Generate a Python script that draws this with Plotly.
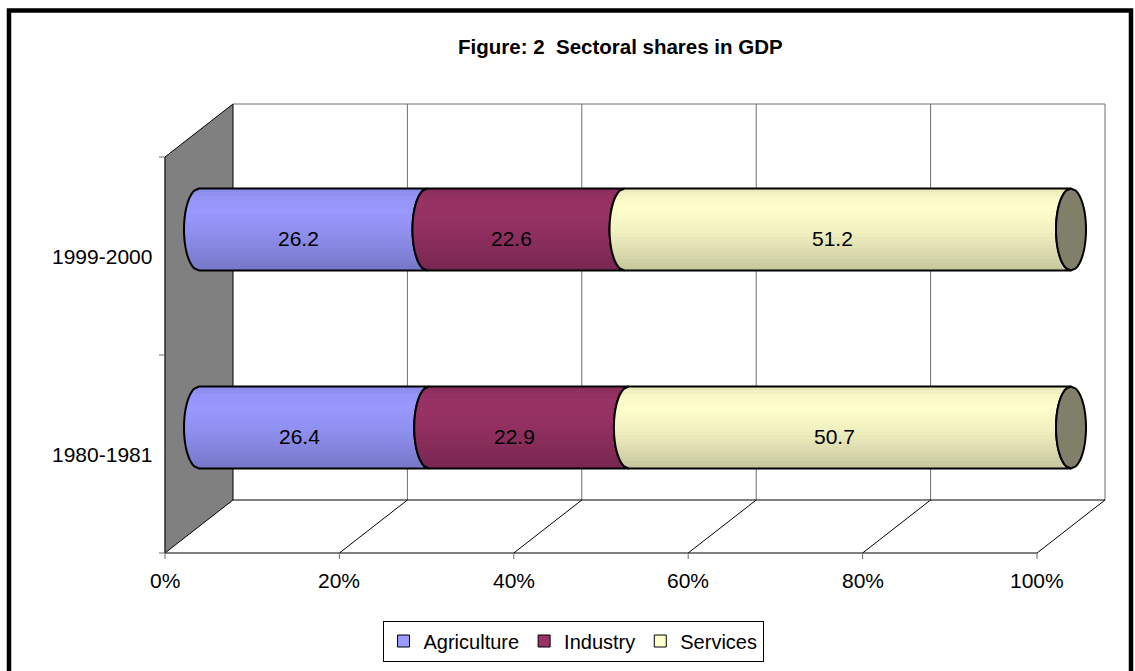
import numpy as np
import plotly.graph_objects as go

# ---- data -------------------------------------------------------------
periods = ["1980-1981", "1999-2000"]          # bottom to top
sectors = ["Agriculture", "Industry", "Services"]
agriculture = [26.4, 26.2]
industry = [22.9, 22.6]
services = [50.7, 51.2]
pct_ticks = [0, 20, 40, 60, 80, 100]
title_text = "Figure: 2 \u00a0Sectoral shares in GDP"

series = [agriculture, industry, services]
sector_colors = ["#9999FF", "#993366", "#FFFFCC"]
cap_color = "#80806A"
wall_color = "#808080"
grid_color = "#6E6E6E"
FONT = "Liberation Sans, Arial, sans-serif"

# ---- page / projection geometry ----------------------------------------
FIG_W, FIG_H = 1135, 671
FRONT_L, FRONT_R, FRONT_T, FRONT_B = 165, 1037, 157, 553   # front plane (px)
DEPTH_PX_X, DEPTH_PX_Y = 68, 53                             # oblique depth (px)

px_per_pct = (FRONT_R - FRONT_L) / 100.0
px_per_cat = (FRONT_B - FRONT_T) / len(periods)
x_range = [-FRONT_L / px_per_pct, (FIG_W - FRONT_L) / px_per_pct]
y_range = [(FRONT_B - FIG_H) / px_per_cat, FRONT_B / px_per_cat]

DX = DEPTH_PX_X / px_per_pct      # depth offset in % units
DY = DEPTH_PX_Y / px_per_cat      # depth offset in category units
n_cat = len(periods)

bar_half = 41 / px_per_cat        # half thickness of a cylinder
cap_a = 15 / px_per_pct           # horizontal radius of the end ellipses


def path_of(xs, ys, close=True):
    pts = " L ".join(f"{x:.4f},{y:.4f}" for x, y in zip(xs, ys))
    return "M " + pts + (" Z" if close else "")


shapes = []


def add_poly(xs, ys, fill, line_color=None, line_width=0, close=True):
    shapes.append(dict(
        type="path", xref="x", yref="y", path=path_of(xs, ys, close),
        fillcolor=fill if fill else "rgba(0,0,0,0)",
        line=dict(color=line_color or "rgba(0,0,0,0)", width=line_width),
        layer="above",
    ))


def add_line(x0, y0, x1, y1, color, width=1):
    shapes.append(dict(type="line", xref="x", yref="y", x0=x0, y0=y0,
                       x1=x1, y1=y1, line=dict(color=color, width=width),
                       layer="above"))


# ---- walls and floor ----------------------------------------------------
y_top, y_bot = float(n_cat), 0.0
# left side wall (grey)
add_poly([0, DX, DX, 0], [y_bot, y_bot + DY, y_top + DY, y_top],
         wall_color, "black", 1)
# back wall top edge and gridlines
add_line(DX, y_top + DY, 100 + DX, y_top + DY, grid_color, 1)
for p in pct_ticks[1:]:
    add_line(p + DX, y_bot + DY, p + DX, y_top + DY, grid_color, 1)
# floor
add_line(DX, y_bot + DY, 100 + DX, y_bot + DY, "black", 1)
add_line(0, y_bot, 100, y_bot, "black", 1)
for p in pct_ticks[1:]:
    add_line(p, y_bot, p + DX, y_bot + DY, "black", 1)
# value-axis tick marks
tick_px = 6
for p in pct_ticks:
    add_line(p, y_bot, p, y_bot - tick_px / px_per_cat, grid_color, 1)
# category axis and its tick marks
add_line(0, y_bot, 0, y_top, "#404040", 1)
for k in range(n_cat + 1):
    add_line(0, k, -tick_px / px_per_pct, k, grid_color, 1)

# ---- cylinders ------------------------------------------------------------


def rgb_of(hexcol):
    h = hexcol.lstrip("#")
    return np.array([int(h[i:i + 2], 16) for i in (0, 2, 4)], dtype=float)


# brightness across the cylinder, t=-1 at the top edge, t=+1 at the bottom
shade_t = [-1.0, -0.75, -0.45, 0.0, 0.45, 1.0]
shade_f = [0.90, 0.98, 1.00, 0.95, 0.88, 0.78]
n_strips = 22
t_edges = np.linspace(-1, 1, n_strips + 1)


def ell(t):
    return cap_a * np.sqrt(np.clip(1 - t ** 2, 0, 1))


fig = go.Figure()
bar_centres = [k + 0.5 + DY / 2 for k in range(n_cat)]

starts = np.zeros(n_cat)
for s_idx, (name, vals, col) in enumerate(zip(sectors, series, sector_colors)):
    vals = np.array(vals, dtype=float)
    fig.add_trace(go.Bar(
        orientation="h", name=name, y=bar_centres, x=vals,
        base=starts + DX / 2, width=2 * bar_half,
        marker=dict(color=col, line=dict(color="black", width=1)),
        hovertemplate="%{y}<br>" + name + ": %{x}<extra></extra>",
    ))
    base_rgb = rgb_of(col)
    for k in range(n_cat):
        x0 = starts[k] + DX / 2
        x1 = x0 + vals[k]
        yc = bar_centres[k]
        # shaded horizontal strips clipped to the cylinder outline
        for j in range(n_strips):
            ta, tb = t_edges[j], min(t_edges[j + 1] + 0.02, 1.0)
            tt = np.linspace(ta, tb, 5)
            f = np.interp((ta + tb) / 2, shade_t, shade_f)
            c = np.clip(base_rgb * f, 0, 255).astype(int)
            xs = list(x0 - ell(tt)) + list(x1 - ell(tt[::-1]))
            ys = list(yc - tt * bar_half) + list(yc - tt[::-1] * bar_half)
            add_poly(xs, ys, f"rgb({c[0]},{c[1]},{c[2]})")
        # outline of the segment
        tt = np.linspace(-1, 1, 41)
        xs = list(x0 - ell(tt)) + list(x1 - ell(tt[::-1]))
        ys = list(yc - tt * bar_half) + list(yc - tt[::-1] * bar_half)
        add_poly(xs, ys, None, "black", 2)
    starts = starts + vals

# end caps
for k in range(n_cat):
    xe = starts[k] + DX / 2
    yc = bar_centres[k]
    tt = np.linspace(-1, 1, 41)
    xs = list(xe - ell(tt)) + list(xe + ell(tt[::-1]))
    ys = list(yc - tt * bar_half) + list(yc - tt[::-1] * bar_half)
    add_poly(xs, ys, cap_color, "black", 2)

# ---- text ---------------------------------------------------------------------
annotations = []
starts = np.zeros(n_cat)
for vals in series:
    for k in range(n_cat):
        xc = starts[k] + vals[k] / 2 + DX / 2 - cap_a
        annotations.append(dict(
            x=xc, y=bar_centres[k], xref="x", yref="y", text=f"{vals[k]:.1f}",
            showarrow=False, yshift=-9, xanchor="center", yanchor="middle",
            font=dict(family=FONT, size=21, color="black")))
    starts = starts + np.array(vals)

for p in pct_ticks:
    annotations.append(dict(
        x=p, y=y_bot, xref="x", yref="y", text=f"{p}%", showarrow=False,
        yshift=-27, xanchor="center", yanchor="middle",
        font=dict(family=FONT, size=21, color="black")))

for k, lab in enumerate(periods):
    annotations.append(dict(
        x=0, y=k + 0.5, xref="x", yref="y", text=lab, showarrow=False,
        xshift=-11, xanchor="right", yanchor="middle",
        font=dict(family=FONT, size=21, color="black")))

annotations.append(dict(
    x=620 / FIG_W, y=1 - 47 / FIG_H, xref="paper", yref="paper",
    text=f"<b>{title_text}</b>", showarrow=False,
    xanchor="center", yanchor="middle",
    font=dict(family=FONT, size=20.5, color="black")))

# outer frame of the figure
shapes.append(dict(type="rect", xref="paper", yref="paper",
                   x0=9 / FIG_W, x1=1131 / FIG_W, y0=-0.1, y1=1 - 10.5 / FIG_H,
                   line=dict(color="black", width=4.5),
                   fillcolor="rgba(0,0,0,0)", layer="above"))

fig.update_layout(
    width=FIG_W, height=FIG_H,
    margin=dict(l=0, r=0, t=0, b=0, pad=0),
    paper_bgcolor="white", plot_bgcolor="white",
    barmode="overlay", bargap=0,
    xaxis=dict(range=x_range, visible=False, fixedrange=True),
    yaxis=dict(range=y_range, visible=False, fixedrange=True),
    shapes=shapes, annotations=annotations,
    showlegend=True,
    legend=dict(orientation="h", x=573 / FIG_W, xanchor="center",
                y=1 - 641 / FIG_H, yanchor="middle", traceorder="normal",
                bordercolor="black", borderwidth=1, bgcolor="white",
                itemwidth=30,
                font=dict(family=FONT, size=20, color="black")),
)

fig.write_html("out.html")
